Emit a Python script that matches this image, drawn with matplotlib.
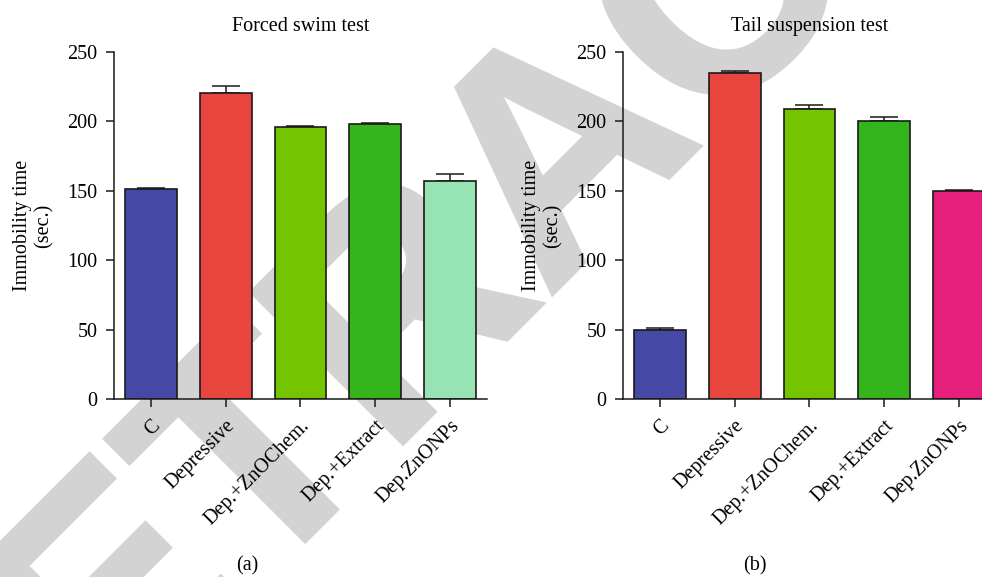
import matplotlib
matplotlib.use("Agg")
import matplotlib.pyplot as plt
import matplotlib.patheffects as pe
import numpy as np

groups = ["C", "Depressive", "Dep.+ZnOChem.", "Dep.+Extract", "Dep.ZnONPs"]

fst_mean = [151, 220, 196, 198, 157]
fst_err = [0.7, 5, 0.7, 0.8, 5]

tst_mean = [50, 235, 209, 200.5, 150]
tst_err = [1, 0.8, 2.5, 2.5, 0.7]

fst_colors = ["#4549a5", "#e8453f", "#74c400", "#34b51b", "#96e3b3"]
tst_colors = ["#4549a5", "#e8453f", "#74c400", "#34b51b", "#e61e7c"]

plt.rcParams["font.family"] = "Liberation Serif"
FS = 14.5
INK = "#1a1a1a"
WM = "#d3d3d3"

fig = plt.figure(figsize=(9.82, 5.77), dpi=100)

# watermark sits behind both panels
fig.text(0.638, 0.619, "RETRACTED", family="Liberation Sans", fontweight="bold",
         fontsize=224, color=WM, rotation=45, ha="center",
         va="baseline", rotation_mode="anchor", zorder=-5,
         path_effects=[pe.withStroke(linewidth=3, foreground=WM,
                                     joinstyle="miter")])


def panel(rect, means, errs, colors, title):
    ax = fig.add_axes(rect)
    ax.patch.set_alpha(0)
    x = np.arange(len(groups))
    ax.bar(x, means, width=0.69, color=colors, edgecolor=INK,
           linewidth=1.2, zorder=2)
    ax.errorbar(x, means, yerr=[np.zeros(len(errs)), errs], fmt="none",
                ecolor=INK, elinewidth=1.1, capsize=10, capthick=1.1,
                zorder=1)
    ax.set_xlim(-0.5, 4.5)
    ax.set_ylim(0, 250)
    ax.set_yticks([0, 50, 100, 150, 200, 250])
    ax.set_xticks(x)
    ax.set_xticklabels(groups, rotation=45, ha="right", va="top",
                       rotation_mode="anchor")
    for s in ("top", "right"):
        ax.spines[s].set_visible(False)
    for s in ("left", "bottom"):
        ax.spines[s].set_linewidth(1.1)
        ax.spines[s].set_color(INK)
    ax.tick_params(axis="both", length=5.5, width=1.1, color=INK,
                   labelsize=FS)
    ax.tick_params(axis="y", pad=6)
    ax.tick_params(axis="x", pad=7)
    ax.set_ylabel("Immobility time\n(sec.)", fontsize=FS, linespacing=1.15,
                  labelpad=10)
    ax.set_title(title, fontsize=FS, pad=15)
    return ax


ax1 = panel([0.1157, 0.308, 0.3806, 0.6024], fst_mean, fst_err, fst_colors,
            "Forced swim test")
ax2 = panel([0.634, 0.308, 0.3806, 0.6024], tst_mean, tst_err, tst_colors,
            "Tail suspension test")

fig.text(247 / 982, 1 - 566 / 577, "(a)", ha="center", va="center", fontsize=FS)
fig.text(755 / 982, 1 - 566 / 577, "(b)", ha="center", va="center", fontsize=FS)

fig.savefig("out.png", dpi=100)
